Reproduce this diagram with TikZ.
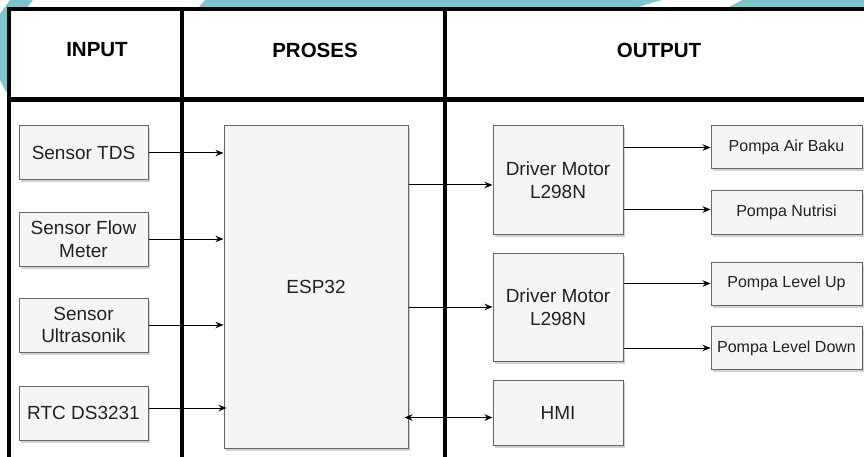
\documentclass[tikz,border=0pt]{standalone}
\usepackage{fontspec}
\setmainfont{Liberation Sans}
\usetikzlibrary{arrows.meta,shadows,calc}
\definecolor{tealbg}{HTML}{80C4CB}
\definecolor{boxfill}{HTML}{F5F5F5}
\definecolor{boxline}{HTML}{666666}
\definecolor{txt}{HTML}{222222}
\tikzset{
  box/.style={draw=boxline, fill=boxfill, line width=1pt, inner sep=0pt,
    align=center, text=txt, font=\fontsize{19}{22.5}\selectfont,
    drop shadow={shadow xshift=2pt, shadow yshift=-2.5pt, opacity=0.35, fill=gray}},
  inbox/.style={box, minimum width=129pt, minimum height=54pt},
  pump/.style={box, minimum width=151pt, minimum height=43pt, font=\fontsize{16}{19}\selectfont},
  drvbox/.style={box, minimum width=130pt, minimum height=108pt},
  conn/.style={line width=1pt, draw=black, -{Stealth[length=8pt,width=6.5pt]}},
  bconn/.style={line width=1pt, draw=black, {Stealth[length=8pt,width=6.5pt]}-{Stealth[length=8pt,width=6.5pt]}},
  gridline/.style={line width=4pt, draw=black},
  headtext/.style={font=\fontsize{20.5}{24}\selectfont\bfseries, text=black, inner sep=0pt}
}
\begin{document}
\begin{tikzpicture}[x=1pt,y=-1pt]
\useasboundingbox (0,0) rectangle (864,457);
% decorative background
\fill[tealbg] (10,0) -- (33,0) -- (9,30) -- (9,90) -- (6,92) -- (0,80) -- (0,14) -- cycle;
\fill[tealbg] (205,0) -- (864,0) -- (864,8) -- (198,8) -- cycle;
\fill[white] (662,0) -- (742,0) .. controls (735,4) .. (727,8) -- (636,8) .. controls (648,4) .. cycle;
% table
\fill[white] (9,9) rectangle (864,457);
\draw[gridline] (7,9) -- (864,9);
\draw[gridline] (9,7) -- (9,457);
\draw[gridline] (182,9) -- (182,457);
\draw[gridline] (445,9) -- (445,457);
\draw[gridline, line width=5pt] (7,100) -- (864,100);
\node[headtext] (hin) at (97,50) {INPUT};
\node[headtext] (hpr) at (315,50) {PROSES};
\node[headtext] (hout) at (659,50) {OUTPUT};
% input boxes
\node[inbox] (tds) at (83.5,153) {Sensor TDS};
\node[inbox] (flow) at (83.5,239) {Sensor Flow\\Meter};
\node[inbox] (ultra) at (83.5,325) {Sensor\\Ultrasonik};
\node[inbox] (rtc) at (83.5,413) {RTC DS3231};
% process
\node[box, minimum width=184pt, minimum height=322pt] (esp) at (316,287) {ESP32};
% outputs
\node[drvbox] (drv1) at (558,180) {Driver Motor\\L298N};
\node[drvbox] (drv2) at (558,307) {Driver Motor\\L298N};
\node[box, minimum width=130pt, minimum height=65pt] (hmi) at (558,412.5) {HMI};
\node[pump] (air) at (786.5,147.5) {Pompa Air Baku};
\node[pump] (nut) at (786.5,212.5) {Pompa Nutrisi};
\node[pump] (up) at (786.5,283.5) {Pompa Level Up};
\node[pump] (down) at (786.5,348) {Pompa Level Down};
% connectors
\draw[conn] (tds.east) -- (tds.east -| esp.west);
\draw[conn] (flow.east) -- (flow.east -| esp.west);
\draw[conn] (ultra.east) -- (ultra.east -| esp.west);
\coordinate (rtcout) at ($(rtc.east)+(0,-5)$);
\draw[conn] (rtcout) -- ([xshift=3pt]rtcout -| esp.west);
\coordinate (d1in) at ($(drv1.west)+(0,5)$);
\draw[conn] (esp.east |- d1in) -- (d1in);
\draw[conn] (esp.east |- drv2.west) -- (drv2.west);
\coordinate (hmiin) at ($(hmi.west)+(0,5)$);
\draw[bconn] ([xshift=-4pt]esp.east |- hmiin) -- (hmiin);
\draw[conn] (drv1.east |- air.west) -- (air.west);
\coordinate (nutin) at ($(nut.west)+(0,-3)$);
\draw[conn] (drv1.east |- nutin) -- (nutin);
\draw[conn] (drv2.east |- up.west) -- (up.west);
\draw[conn] (drv2.east |- down.west) -- (down.west);
\end{tikzpicture}
\end{document}
